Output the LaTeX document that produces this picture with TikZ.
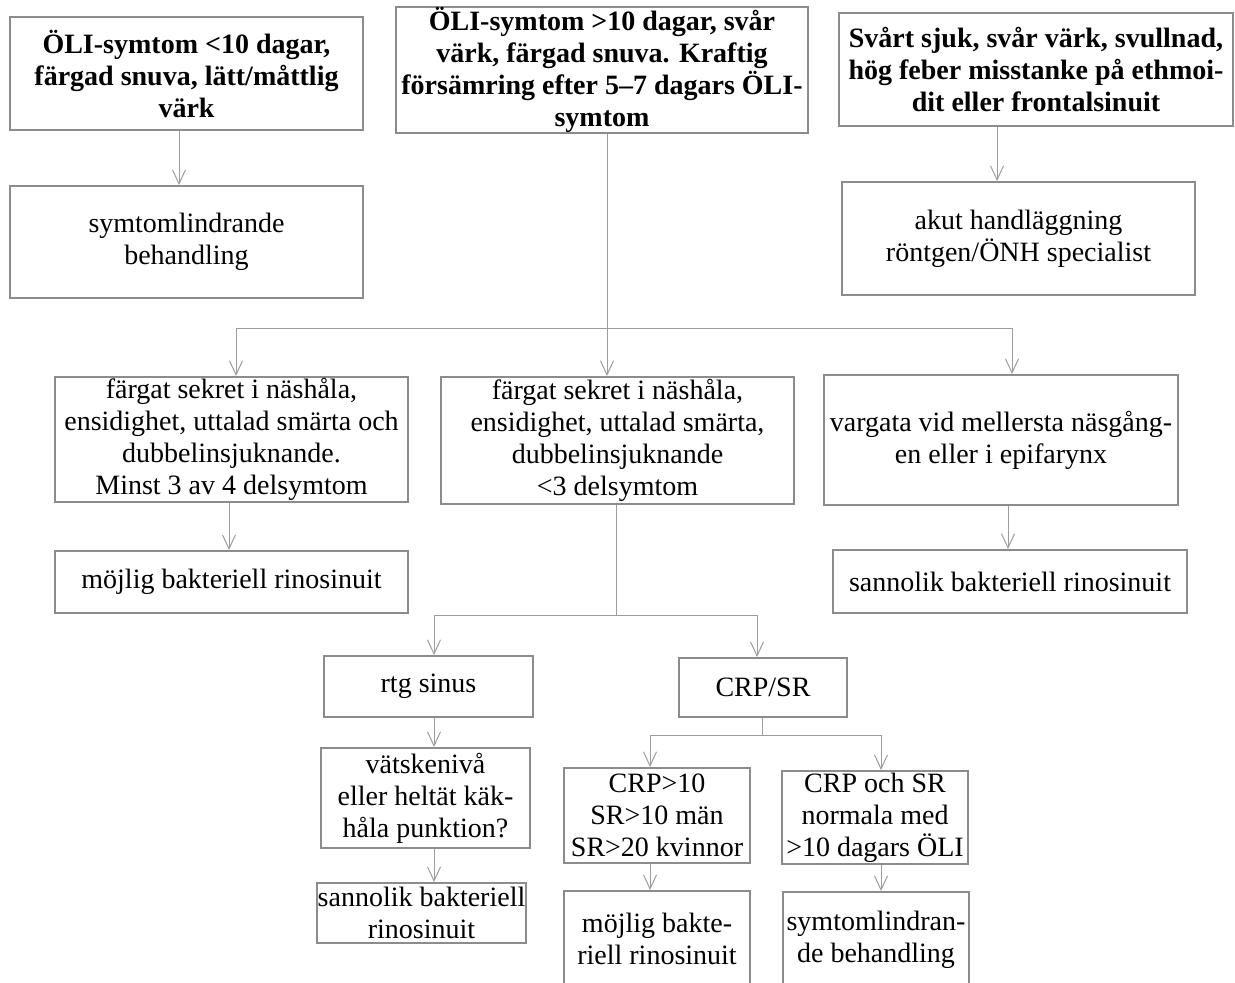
\documentclass[tikz,border=0pt]{standalone}
\usepackage{fontspec}
\setmainfont{Liberation Serif}
\usetikzlibrary{arrows.meta}
\definecolor{boxgray}{HTML}{8C8C8C}
\definecolor{linegray}{HTML}{9C9C9C}
\tikzset{>={Straight Barb[length=7pt,width=6.5pt]}}
\tikzset{
  sz/.style 2 args={minimum width=#1*0.5pt, minimum height=#2*0.5pt},
  box/.style={draw=boxgray, line width=1pt, inner sep=0pt, align=center,
    font=\fontsize{14}{16}\selectfont},
  hbox/.style={box, font=\fontsize{14}{16}\selectfont\bfseries},
  conn/.style={draw=linegray, line width=0.5pt},
}

\begin{document}
\begin{tikzpicture}[x=0.5pt, y=-0.5pt]
    \useasboundingbox (0,0) rectangle (1235,982);

    % Top row
    \node[hbox, sz={353}{113}] (A) at (186.5,73.5)
        {ÖLI-symtom <10 dagar,\\ färgad snuva, lätt/måttlig\\ värk};
    \node[hbox, sz={412}{126}] (B) at (602,70)
        {ÖLI-symtom >10 dagar, svår\\ värk, färgad snuva. Kraftig\\ försämring efter 5–7 dagars ÖLI-\\ symtom};
    \node[hbox, sz={394}{113}] (C) at (1036,69.5)
        {Svårt sjuk, svår värk, svullnad,\\ hög feber misstanke på ethmoi-\\ dit eller frontalsinuit};

    \node[box, sz={353}{112}] (A2) at (186.5,242) {symtomlindrande\\ behandling};
    \node[box, sz={353}{113}] (C2) at (1018.5,238.5) {akut handläggning\\ röntgen/ÖNH specialist};

    % Second row
    \node[box, sz={353}{125}] (D1) at (231.5,439.5)
        {färgat sekret i näshåla,\\ ensidighet, uttalad smärta och\\ dubbelinsjuknande.\\ Minst 3 av 4 delsymtom};
    \node[box, sz={353}{127}] (D2) at (617.5,440.5)
        {färgat sekret i näshåla,\\ ensidighet, uttalad smärta,\\ dubbelinsjuknande\\ <3 delsymtom};
    \node[box, sz={354}{130}] (D3) at (1001,440)
        {vargata vid mellersta näsgång-\\ en eller i epifarynx};

    \node[box, sz={353}{62}] (E1) at (231.5,582) {möjlig bakteriell rinosinuit};
    \node[box, sz={354}{63}] (E3) at (1010,581.5) {sannolik bakteriell rinosinuit};

    % Lower part
    \node[box, sz={209}{61}] (F1) at (428.5,686.5) {rtg sinus};
    \node[box, sz={168}{59}] (F2) at (763,687.5) {CRP/SR};
    \node[box, sz={209}{100}] (G1) at (425.5,798) {vätskenivå\\ eller heltät käk-\\ håla punktion?};
    \node[box, sz={209}{60}] (H1) at (421.5,913) {sannolik bakteriell\\ rinosinuit};
    \node[box, sz={186}{95}] (G2) at (657,815.5) {CRP>10\\ SR>10 män\\ SR>20 kvinnor};
    \node[box, sz={186}{93}] (G3) at (875,817.5) {CRP och SR\\ normala med\\ >10 dagars ÖLI};
    \node[box, sz={186}{96}] (H2) at (657,939) {möjlig bakte-\\ riell rinosinuit};
    \node[box, sz={186}{96}] (H3) at (876,940) {symtomlindran-\\ de behandling};

    % Connectors
    \coordinate (xA) at (179,0);
    \coordinate (xC) at (997,0);
    \draw[conn,->] (A.south -| xA) -- (A2.north -| xA);
    \draw[conn,->] (C.south -| xC) -- (C2.north -| xC);

    \coordinate (J1) at (607,328);
    \coordinate (J1L) at (236,328);
    \coordinate (J1R) at (1012,328);
    \draw[conn] (J1L) -- (J1R);
    \draw[conn,->] (B.south -| J1) -- (D2.north -| J1);
    \draw[conn,->] (J1L) -- (D1.north -| J1L);
    \draw[conn,->] (J1R) -- (D3.north -| J1R);

    \coordinate (xD1) at (229,0);
    \coordinate (xD3) at (1008,0);
    \draw[conn,->] (D1.south -| xD1) -- (E1.north -| xD1);
    \draw[conn,->] (D3.south -| xD3) -- (E3.north -| xD3);

    \coordinate (J2) at (616,615);
    \coordinate (J2L) at (434,615);
    \coordinate (J2R) at (757,615);
    \draw[conn] (D2.south -| J2) -- (J2);
    \draw[conn] (J2L) -- (J2R);
    \draw[conn,->] (J2L) -- (F1.north -| J2L);
    \draw[conn,->] (J2R) -- (F2.north -| J2R);
    \draw[conn,->] (F1.south -| J2L) -- (G1.north -| J2L);
    \draw[conn,->] (G1.south -| J2L) -- (H1.north -| J2L);

    \coordinate (J3) at (762,735);
    \coordinate (J3L) at (650,735);
    \coordinate (J3R) at (881,735);
    \draw[conn] (F2.south -| J3) -- (J3);
    \draw[conn] (J3L) -- (J3R);
    \draw[conn,->] (J3L) -- (G2.north -| J3L);
    \draw[conn,->] (J3R) -- (G3.north -| J3R);
    \draw[conn,->] (G2.south -| J3L) -- (H2.north -| J3L);
    \draw[conn,->] (G3.south -| J3R) -- (H3.north -| J3R);
\end{tikzpicture}
\end{document}
